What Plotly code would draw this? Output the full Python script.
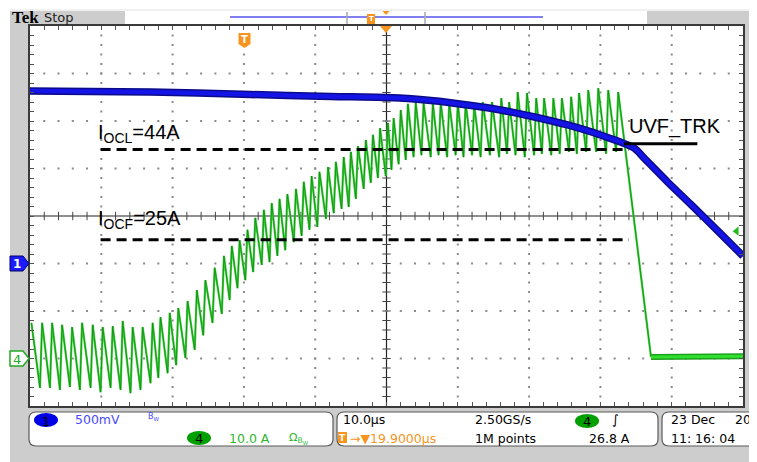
import plotly.graph_objects as go

# Channel 4: inductor current, 10 A/div, ground 3 div below centre.
peak_t_us = [-29.9, -28.4, -27.0, -25.6, -24.2, -22.8, -21.3, -19.9, -18.5, -17.1,
             -15.7, -14.3, -12.9, -11.8, -10.5, -9.3, -8.0, -6.7, -5.5, -4.2,
             -2.9, -1.8, -0.7, 0.4, 1.5, 2.7, 3.8, 4.9, 6.0, 7.2,
             8.3, 9.4, 10.5, 11.7, 12.8, 13.9, 14.9, 15.9, 17.0, 18.0,
             19.0, 20.1, 20.9, 21.9, 22.9, 24.0, 25.1, 26.4, 27.5, 28.7,
             29.9, 31.0, 32.2, 33.4, 34.7, 36.0, 37.1, 38.3, 39.6, 40.9,
             42.0, 43.3, 44.5, 45.8, 46.9, 48.2, 49.6, 51.0, 52.4]
peak_i_a = [7.5, 7.5, 7.5, 7.1, 6.6, 7.5, 7.1, 6.6, 6.8, 7.9,
            6.6, 6.6, 7.5, 8.7, 9.6, 10.6, 12.1, 14.4, 16.5, 19.1,
            21.6, 23.7, 24.9, 27.1, 29.6, 31.3, 32.7, 33.6, 34.6, 35.7,
            37.2, 38.4, 39.3, 40.3, 41.4, 42.4, 43.5, 44.7, 46.0, 47.1,
            48.5, 49.6, 50.6, 52.3, 53.6, 54.0, 53.8, 53.8, 54.0, 53.8,
            53.8, 53.8, 53.4, 54.0, 54.0, 54.8, 54.0, 56.1, 55.9, 54.8,
            54.8, 54.8, 54.8, 55.1, 55.9, 56.5, 56.9, 56.5, 56.1]
valley_t_us = [-28.7, -27.3, -25.9, -24.5, -23.1, -21.6, -20.2, -18.8, -17.4, -16.0,
               -14.6, -13.2, -12.1, -10.8, -9.6, -8.3, -7.0, -5.8, -4.5, -3.2,
               -2.1, -1.0, 0.1, 1.2, 2.4, 3.5, 4.6, 5.7, 6.9, 8.0,
               9.1, 10.2, 11.4, 12.5, 13.6, 14.6, 15.6, 16.7, 17.7, 18.7,
               19.8, 20.6, 21.6, 22.6, 23.7, 24.8, 26.1, 27.2, 28.4, 29.6,
               30.7, 31.9, 33.1, 34.4, 35.7, 36.8, 38.0, 39.3, 40.6, 41.7,
               43.0, 44.2, 45.5, 46.6, 47.9, 49.3, 50.7, 52.1]
valley_i_a = [-6.2, -6.2, -6.6, -6.0, -6.6, -6.2, -7.1, -6.2, -6.6, -7.3,
              -6.6, -5.2, -4.1, -3.1, -1.4, 0.1, 1.8, 4.9, 7.5, 9.4,
              12.3, 14.8, 16.5, 18.2, 19.7, 20.3, 21.6, 22.8, 24.5, 25.8,
              27.1, 27.7, 29.4, 30.6, 31.5, 31.9, 33.6, 35.7, 37.0, 38.0,
              38.4, 39.7, 40.9, 41.8, 42.4, 42.8, 42.4, 42.8, 42.4, 42.8,
              42.4, 42.8, 42.4, 42.8, 42.4, 43.1, 42.8, 42.4, 42.8, 43.1,
              42.8, 43.1, 43.5, 43.1, 43.5, 43.5, 43.1, 43.5]
drop_t_us = [57.0]
drop_i_a = [0.3]
flat_t_us = [57.0, 63.0, 69.9]
flat_i_a = [0.3, 0.4, 0.5]

# Channel 1: UVF_TRK voltage, 500 mV/div, ground 1 div below centre.
ch1_t_us = [-30.1, -13.2, 0.8, 12.1, 19.9, 26.5, 31.3, 35.9, 40.5, 45.3,
            49.9, 54.6, 56.0, 59.3, 62.6, 66.8, 69.9]
ch1_v = [1.816, 1.805, 1.779, 1.758, 1.747, 1.714, 1.668, 1.616, 1.545, 1.458,
         1.353, 1.216, 1.111, 0.860, 0.621, 0.311, 0.079]

# Markings
I_OCL_A = 44
I_OCF_A = 25
UVF_TRK_V = 1.26
level_line_t_us = [-20.2, 53.9]
uvf_line_t_us = [53.2, 63.5]
trigger_level_a = 26.8

# Scope settings
t_range = [-30.1, 69.9]       # 10 us/div, 19.9 us delay
i_range = [-10, 70]           # 10 A/div, ground -3 div
v_range = [-1.5, 2.5]         # 500 mV/div, ground -1 div
t_centre = 19.9
i_centre = 30

# ---------------- geometry helpers (screen pixels) ----------------
OFF = 8                       # page body margin
SW, SH = 757, 462
W, H = SW - OFF, SH - OFF
L, R, T, B = 30, 743, 26, 406


def PX(x):
    return (x - L) / (R - L)


def PY(y):
    return (B - y) / (B - T)


def rrect(x0, y0, x1, y1, r):
    return ("M {a},{b} L {c},{b} Q {d},{b} {d},{e} L {d},{f} Q {d},{g} {c},{g} "
            "L {a},{g} Q {h},{g} {h},{f} L {h},{e} Q {h},{b} {a},{b} Z").format(
        a=PX(x0 + r), b=PY(y0), c=PX(x1 - r), d=PX(x1), e=PY(y0 + r),
        f=PY(y1 - r), g=PY(y1), h=PX(x0))


fig = go.Figure()

# grid dots
minor_x = [t_range[0] + 2 * i for i in range(1, 50)]
minor_y = [i_range[0] + 2 * j for j in range(1, 40)]
major_x = [t_range[0] + 10 * k for k in range(1, 10) if k != 5]
major_y = [i_range[0] + 10 * j for j in range(1, 8) if j != 4]
gx, gy = [], []
for xv in major_x:
    for yv in minor_y:
        gx.append(xv); gy.append(yv)
for yv in major_y:
    for xv in minor_x:
        gx.append(xv); gy.append(yv)
fig.add_trace(go.Scatter(x=gx, y=gy, mode="markers", hoverinfo="skip",
                         marker=dict(size=2, color="#8a8a8a", symbol="square"),
                         showlegend=False))
# ticks on centre graticule
fig.add_trace(go.Scatter(x=minor_x, y=[i_centre] * len(minor_x), mode="markers",
                         hoverinfo="skip", showlegend=False,
                         marker=dict(symbol="line-ns", size=6,
                                     line=dict(width=1, color="#444"))))
fig.add_trace(go.Scatter(x=[t_centre] * len(minor_y), y=minor_y, mode="markers",
                         hoverinfo="skip", showlegend=False,
                         marker=dict(symbol="line-ew", size=6,
                                     line=dict(width=1, color="#444"))))

# channel 4 waveform
gxs = [peak_t_us[0]]
gys = [peak_i_a[0]]
for vt, vi, pt, pi in zip(valley_t_us, valley_i_a, peak_t_us[1:], peak_i_a[1:]):
    gxs += [vt, pt]
    gys += [vi, pi]
gxs += drop_t_us
gys += drop_i_a
fig.add_trace(go.Scatter(x=gxs, y=gys, mode="lines", showlegend=False,
                         line=dict(color="#3fd03f", width=2.2)))
fig.add_trace(go.Scatter(x=gxs, y=gys, mode="lines", showlegend=False,
                         line=dict(color="#0e8a0e", width=0.8)))
fig.add_trace(go.Scatter(x=flat_t_us, y=flat_i_a, mode="lines", showlegend=False,
                         line=dict(color="#1f9f1f", width=6)))
fig.add_trace(go.Scatter(x=flat_t_us, y=flat_i_a, mode="lines", showlegend=False,
                         line=dict(color="#2fe02f", width=3)))

# channel 1 waveform
fig.add_trace(go.Scatter(x=ch1_t_us, y=ch1_v, yaxis="y2", mode="lines",
                         showlegend=False,
                         line=dict(color="#0b0b8a", width=7.5, shape="spline",
                                   smoothing=0.8)))
fig.add_trace(go.Scatter(x=ch1_t_us, y=ch1_v, yaxis="y2", mode="lines",
                         showlegend=False,
                         line=dict(color="#1414e6", width=4.5, shape="spline",
                                   smoothing=0.8)))

# trigger level arrow
fig.add_trace(go.Scatter(x=[69.0], y=[trigger_level_a], mode="markers",
                         showlegend=False, cliponaxis=False,
                         marker=dict(symbol="triangle-left", size=8, color="#22bb22")))

shapes = []
grey = "#cdcdcd"
for (x0, y0, x1, y1) in [(10, 11, 30, 462), (10, 11, 125, 25), (647, 11, 757, 26),
                         (743, 11, 757, 462), (10, 407, 757, 462)]:
    shapes.append(dict(type="rect", xref="paper", yref="paper", x0=PX(x0), x1=PX(x1),
                       y0=PY(y0), y1=PY(y1), fillcolor=grey, line=dict(width=0),
                       layer="below"))
shapes.append(dict(type="line", xref="paper", yref="paper", x0=PX(10), x1=PX(757),
                   y0=PY(10), y1=PY(10), line=dict(color="#e2e2e2", width=1), layer="below"))
for (x0, x1) in [(29, 333), (337, 658), (662, 800)]:
    shapes.append(dict(type="path", xref="paper", yref="paper",
                       path=rrect(x0, 412, x1, 446, 7), fillcolor="white",
                       line=dict(color="#5a5a5a", width=1.2), layer="below"))

# centre graticule
shapes.append(dict(type="line", xref="x", yref="paper", x0=t_centre, x1=t_centre,
                   y0=0, y1=1, line=dict(color="#222", width=1.2), layer="below"))
shapes.append(dict(type="line", xref="paper", yref="y", x0=0, x1=1,
                   y0=i_centre, y1=i_centre, line=dict(color="#222", width=1.2),
                   layer="below"))

# current limit lines and UVF marker
for lv in (I_OCL_A, I_OCF_A):
    shapes.append(dict(type="line", xref="x", yref="y", x0=level_line_t_us[0],
                       x1=level_line_t_us[1], y0=lv, y1=lv,
                       line=dict(color="black", width=3, dash="10px,6px")))
shapes.append(dict(type="line", xref="x", yref="y2", x0=uvf_line_t_us[0],
                   x1=uvf_line_t_us[1], y0=UVF_TRK_V, y1=UVF_TRK_V,
                   line=dict(color="black", width=3)))

# top record bar
shapes.append(dict(type="line", xref="paper", yref="paper", x0=PX(230), x1=PX(543),
                   y0=PY(17), y1=PY(17), line=dict(color="#7f7ff2", width=2)))
for bx in (347, 425):
    shapes.append(dict(type="line", xref="paper", yref="paper", x0=PX(bx), x1=PX(bx),
                       y0=PY(12), y1=PY(24), line=dict(color="#a8a8a8", width=1.5)))
shapes.append(dict(type="rect", xref="paper", yref="paper", x0=PX(367), x1=PX(375),
                   y0=PY(14), y1=PY(24), fillcolor="#f7941d", line=dict(width=0)))
shapes.append(dict(type="path", xref="paper", yref="paper",
                   path="M {},{} L {},{} L {},{} Z".format(PX(382.5), PY(11), PX(389.5),
                                                           PY(11), PX(386), PY(15)),
                   fillcolor="#f7941d", line=dict(width=0)))
# trigger marker at top of graticule
shapes.append(dict(type="path", xref="paper", yref="paper",
                   path="M {},{} L {},{} L {},{} Z".format(PX(380), PY(26), PX(392),
                                                           PY(26), PX(386), PY(33)),
                   fillcolor="#f7941d", line=dict(width=0)))
# trigger position badge
shapes.append(dict(type="path", xref="paper", yref="paper",
                   path="M {a},{t} L {b},{t} L {b},{m} L {c},{bt} L {a},{m} Z".format(
                       a=PX(238.5), b=PX(250.5), c=PX(244.5), t=PY(33), m=PY(44), bt=PY(48)),
                   fillcolor="#f7941d", line=dict(width=0)))

# channel markers on the left
shapes.append(dict(type="path", xref="paper", yref="paper",
                   path="M {a},{t} L {b},{t} L {c},{m} L {b},{bt} L {a},{bt} Z".format(
                       a=PX(10), b=PX(23), c=PX(29), t=PY(256), m=PY(263.5), bt=PY(271)),
                   fillcolor="#1a1aff", line=dict(color="#000066", width=1)))
shapes.append(dict(type="path", xref="paper", yref="paper",
                   path="M {a},{t} L {b},{t} L {c},{m} L {b},{bt} L {a},{bt} Z".format(
                       a=PX(10), b=PX(23), c=PX(29), t=PY(351), m=PY(358.5), bt=PY(366)),
                   fillcolor="white", line=dict(color="#22aa22", width=1.5)))

# status-bar pills
shapes.append(dict(type="circle", xref="paper", yref="paper", x0=PX(34), x1=PX(58),
                   y0=PY(413), y1=PY(427), fillcolor="#0000e6", line=dict(width=0)))
shapes.append(dict(type="circle", xref="paper", yref="paper", x0=PX(187), x1=PX(211),
                   y0=PY(431), y1=PY(445), fillcolor="#00a000", line=dict(width=0)))
shapes.append(dict(type="circle", xref="paper", yref="paper", x0=PX(575), x1=PX(599),
                   y0=PY(414), y1=PY(428), fillcolor="#00a000", line=dict(width=0)))
shapes.append(dict(type="rect", xref="paper", yref="paper", x0=PX(338), x1=PX(347),
                   y0=PY(432), y1=PY(443), fillcolor="#f7941d", line=dict(width=0)))

ann = []
SF = "DejaVu Sans"


def txt(x, y, s, size=12.5, color="black", family=SF, anchor="left", **kw):
    ann.append(dict(x=PX(x), y=PY(y), xref="paper", yref="paper", text=s,
                    showarrow=False, xanchor=anchor, yanchor="middle",
                    font=dict(size=size, color=color, family=family), **kw))


txt(10, 18, "<b>Tek</b>", size=17, family="Liberation Serif")
txt(42, 17, "Stop", size=13, color="#222")
txt(244.5, 39.5, "<b>T</b>", size=10, color="white", anchor="center")
txt(371, 19, "<b>T</b>", size=7, color="white", anchor="center")
txt(17, 264, "<b>1</b>", size=12, color="white", anchor="center")
txt(17, 359, "4", size=13, color="#22aa22", anchor="center")

# annotations on graticule
txt(96, 133, "I<sub>OCL</sub>=44A", size=20, family="Liberation Sans")
txt(96, 219, "I<sub>OCF</sub>=25A", size=20, family="Liberation Sans")
txt(627, 126, "UVF_TRK", size=20, family="Liberation Sans")

# status bar texts
txt(46, 421, "1", size=13, color="black", anchor="center")
txt(73, 420, "500mV", color="#4a4aff")
txt(146, 417, "B<sub>W</sub>", size=8, color="#4a4aff")
txt(199, 438, "4", size=13, color="black", anchor="center")
txt(227, 438, "10.0 A", color="#2db82d")
txt(287, 438, "Ω<sub>B<sub>W</sub></sub>", size=11, color="#2db82d")
txt(341, 420, "10.0µs")
txt(473, 420, "2.50GS/s")
txt(587, 421, "4", size=13, color="black", anchor="center")
txt(610, 420, "∫", size=13)
txt(342.5, 438, "<b>T</b>", size=9, color="white", anchor="center")
txt(348, 438, "→▼19.9000µs", color="#f7941d")
txt(473, 438, "1M points")
txt(587, 438, "26.8 A")
txt(669, 420, "23 Dec")
txt(733, 420, "2020")
txt(669, 438, "11: 16: 04")

axis_common = dict(showgrid=False, zeroline=False, showticklabels=False,
                   ticks="inside", ticklen=4, tickcolor="#555", tickwidth=1,
                   showline=True, linecolor="#3a3a3a", linewidth=2, mirror="ticks")
fig.update_layout(
    width=W, height=H, autosize=False,
    margin=dict(l=L - OFF, r=SW - R, t=T - OFF, b=SH - B, pad=0),
    paper_bgcolor="white", plot_bgcolor="white",
    xaxis=dict(range=t_range, tick0=t_range[0], dtick=2, **axis_common),
    yaxis=dict(range=i_range, tick0=i_range[0], dtick=2, **axis_common),
    yaxis2=dict(range=v_range, overlaying="y", visible=False),
    shapes=shapes, annotations=ann, showlegend=False,
)
fig.write_html("out.html")
